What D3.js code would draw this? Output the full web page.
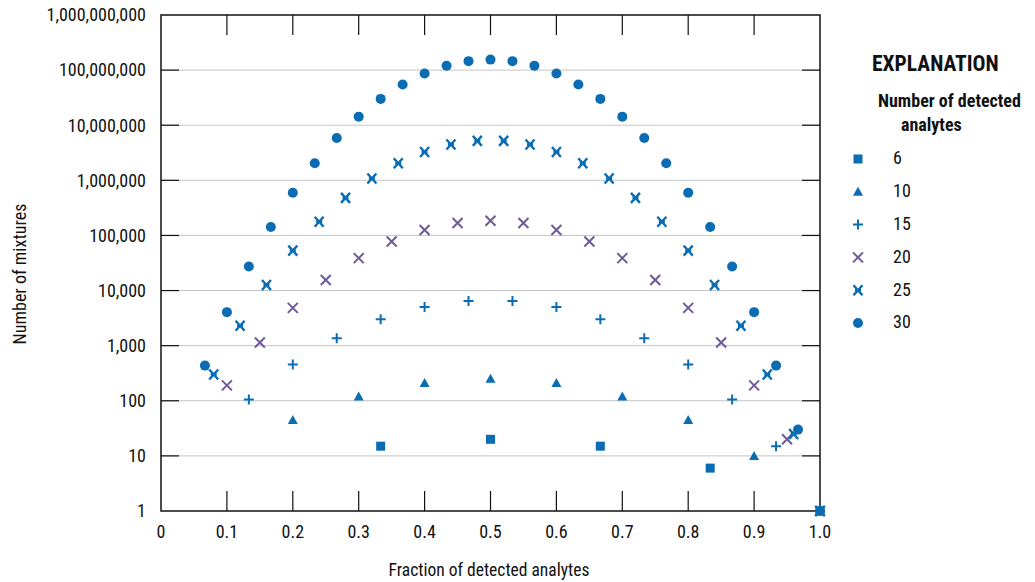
<!DOCTYPE html>
<html>
<head>
<meta charset="utf-8">
<script src="https://cdn.jsdelivr.net/npm/d3@7"></script>
<style>
  body { margin: 0; background: #fff; }
  svg text { font-family: "Liberation Sans Narrow", "Roboto Condensed", "Arial Narrow", sans-serif; fill: #111; }
</style>
</head>
<body>
<div id="chart"></div>
<script>
// number of mixtures for 2..n detected analytes, per group size n
const n6  = [15, 20, 15, 6, 1]
const n10 = [45, 120, 210, 252, 210, 120, 45, 10, 1]
const n15 = [105, 455, 1365, 3003, 5005, 6435, 6435, 5005, 3003, 1365, 455, 105, 15, 1]
const n20 = [190, 1140, 4845, 15504, 38760, 77520, 125970, 167960, 184756, 167960,
             125970, 77520, 38760, 15504, 4845, 1140, 190, 20, 1]
const n25 = [300, 2300, 12650, 53130, 177100, 480700, 1081575, 2042975, 3268760, 4457400,
             5200300, 5200300, 4457400, 3268760, 2042975, 1081575, 480700, 177100, 53130,
             12650, 2300, 300, 25, 1]
const n30 = [435, 4060, 27405, 142506, 593775, 2035800, 5852925, 14307150, 30045015, 54627300,
             86493225, 119759850, 145422675, 155117520, 145422675, 119759850, 86493225, 54627300,
             30045015, 14307150, 5852925, 2035800, 593775, 142506, 27405, 4060, 435, 30, 1]

const groups = [
  {n: 6,  values: n6,  shape: "square"},
  {n: 10, values: n10, shape: "triangle"},
  {n: 15, values: n15, shape: "plus"},
  {n: 20, values: n20, shape: "cross"},
  {n: 25, values: n25, shape: "bowtie"},
  {n: 30, values: n30, shape: "circle"}
]
const xTicks = [0, 0.1, 0.2, 0.3, 0.4, 0.5, 0.6, 0.7, 0.8, 0.9, 1.0]
const xTickLabels = ["0", "0.1", "0.2", "0.3", "0.4", "0.5", "0.6", "0.7", "0.8", "0.9", "1.0"]
const yTicks = [1, 10, 100, 1000, 10000, 100000, 1000000, 10000000, 100000000, 1000000000]

const blue = "#0a6db4", purple = "#6f5a98"
const color = d3.scaleOrdinal().domain([6, 10, 15, 20, 25, 30])
  .range([blue, blue, blue, purple, blue, blue])

const W = 1035, H = 582
const m = {left: 161, right: 820, top: 15, bottom: 511}

const svg = d3.select("#chart").append("svg").attr("width", W).attr("height", H)

const x = d3.scaleLinear().domain([0, 1]).range([m.left, m.right])
const y = d3.scaleLog().domain([1, 1e9]).range([m.bottom, m.top])

// gridlines
svg.append("g").selectAll("line").data(yTicks.slice(1, -1)).enter().append("line")
  .attr("x1", m.left).attr("x2", m.right)
  .attr("y1", d => y(d)).attr("y2", d => y(d))
  .attr("stroke", "#c4c4c4").attr("stroke-width", 1)

// inner ticks
const tk = svg.append("g").attr("stroke", "#111").attr("stroke-width", 1.2)
tk.selectAll(".yl").data(yTicks.slice(1, -1)).enter().append("line")
  .attr("x1", m.left).attr("x2", m.left + 18).attr("y1", d => y(d)).attr("y2", d => y(d))
tk.selectAll(".yr").data(yTicks.slice(1, -1)).enter().append("line")
  .attr("x1", m.right).attr("x2", m.right - 18).attr("y1", d => y(d)).attr("y2", d => y(d))
tk.selectAll(".xb").data(xTicks.slice(1, -1)).enter().append("line")
  .attr("x1", d => x(d)).attr("x2", d => x(d)).attr("y1", m.bottom).attr("y2", m.bottom - 20)
tk.selectAll(".xt").data(xTicks.slice(1, -1)).enter().append("line")
  .attr("x1", d => x(d)).attr("x2", d => x(d)).attr("y1", m.top).attr("y2", m.top + 20)

// frame
svg.append("rect").attr("x", m.left).attr("y", m.top)
  .attr("width", m.right - m.left).attr("height", m.bottom - m.top)
  .attr("fill", "none").attr("stroke", "#111").attr("stroke-width", 1.5)

// tick labels
svg.append("g").selectAll("text").data(yTicks).enter().append("text")
  .attr("x", 146).attr("y", d => y(d)).attr("dy", "0.35em")
  .attr("text-anchor", "end").attr("font-size", 18)
  .text(d => d3.format(",")(d))
svg.append("g").selectAll("text").data(xTicks).enter().append("text")
  .attr("x", d => x(d)).attr("y", 538)
  .attr("text-anchor", "middle").attr("font-size", 18)
  .text((d, i) => xTickLabels[i])

// axis titles
svg.append("text").attr("transform", `translate(26,${(m.top + m.bottom) / 2 + 11}) rotate(-90)`)
  .attr("text-anchor", "middle").attr("font-size", 18).text("Number of mixtures")
svg.append("text").attr("x", 489).attr("y", 576)
  .attr("text-anchor", "middle").attr("font-size", 17.5).text("Fraction of detected analytes")

// marker drawing
function marker(sel, shape, c) {
  if (shape === "square") {
    sel.append("rect").attr("x", -4.5).attr("y", -4.5).attr("width", 9).attr("height", 9).attr("fill", c)
  } else if (shape === "triangle") {
    sel.append("path").attr("d", "M0,-5L5,4L-5,4Z").attr("fill", c)
  } else if (shape === "plus") {
    sel.append("path").attr("d", "M-5,0H5M0,-5V5").attr("stroke", c).attr("stroke-width", 2).attr("fill", "none")
  } else if (shape === "cross") {
    sel.append("path").attr("d", "M-5,-5L5,5M-5,5L5,-5").attr("stroke", c).attr("stroke-width", 2).attr("fill", "none")
  } else if (shape === "bowtie") {
    sel.append("path").attr("d", "M-4.5,-5L4.5,5M-4.5,5L4.5,-5M-3,0H3").attr("stroke", c).attr("stroke-width", 2.4).attr("fill", "none")
  } else {
    sel.append("circle").attr("r", 5).attr("fill", c)
  }
}

// points
groups.forEach(g => {
  const pts = g.values.map((v, i) => ({f: (i + 2) / g.n, v: v}))
  svg.append("g").selectAll("g").data(pts).enter().append("g")
    .attr("transform", d => `translate(${x(d.f)},${y(d.v)})`)
    .each(function () { marker(d3.select(this), g.shape, color(g.n)) })
})

// legend
svg.append("text").attr("x", 872).attr("y", 71).attr("font-size", 21.5).attr("font-weight", "bold")
  .text("EXPLANATION")
svg.append("text").attr("x", 878).attr("y", 107).attr("font-size", 18).attr("font-weight", "bold")
  .text("Number of detected")
svg.append("text").attr("x", 901).attr("y", 131).attr("font-size", 18).attr("font-weight", "bold")
  .text("analytes")
const lg = svg.append("g").selectAll("g").data(groups).enter().append("g")
  .attr("transform", (d, i) => `translate(858,${159 + i * 32.8})`)
lg.each(function (d) { marker(d3.select(this), d.shape, color(d.n)) })
lg.append("text").attr("x", 35).attr("y", -1).attr("dy", "0.35em").attr("font-size", 18)
  .text(d => d.n)
</script>
</body>
</html>
